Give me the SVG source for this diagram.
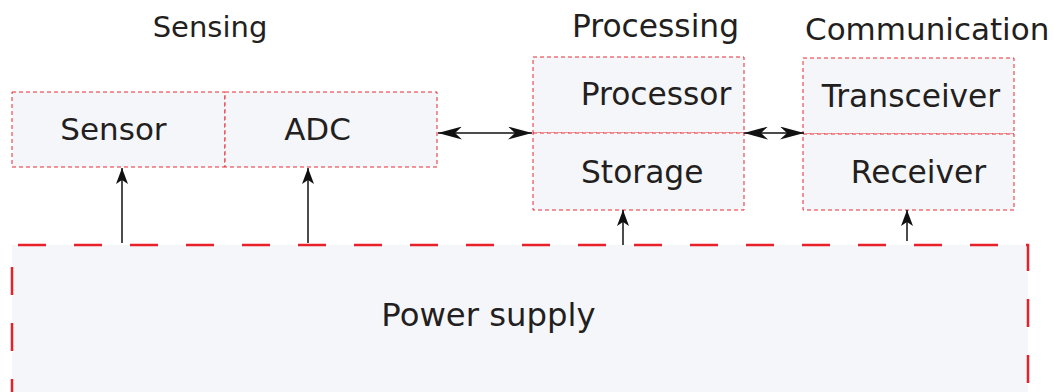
<svg xmlns="http://www.w3.org/2000/svg" width="1053" height="392" viewBox="0 0 1053 392">
<style>
text{font-family:"DejaVu Sans","Liberation Sans",sans-serif;fill:#231f20}
.node{fill:#f5f6fa;stroke:#e8202a;stroke-width:1;stroke-dasharray:4 3;stroke-opacity:0.95}
.lbl{font-size:31px}
.hdr{font-size:29px}
.wire{stroke:#111;stroke-width:1.5;fill:none}
</style>
<defs>
<marker id="ah" viewBox="0 0 16 12" refX="16" refY="6" markerWidth="16" markerHeight="12" markerUnits="userSpaceOnUse" orient="auto-start-reverse">
<path d="M0,0 L16,6 L0,12 L4,6 z" fill="#111"/>
</marker>
<marker id="ah2" viewBox="0 0 24 13" refX="24" refY="6.5" markerWidth="24" markerHeight="13" markerUnits="userSpaceOnUse" orient="auto-start-reverse">
<path d="M0,0 L24,6.5 L0,13 L7,6.5 z" fill="#111"/>
</marker>
</defs>
<text class="hdr" x="210" y="37" text-anchor="middle">Sensing</text>
<text class="hdr" x="655.5" y="37" text-anchor="middle" style="font-size:31.3px">Processing</text>
<text class="hdr" x="805" y="40" style="font-size:31px">Communication</text>
<g id="power">
<rect x="12" y="245" width="1016" height="160" fill="#f5f6fa" stroke="#e8202a" stroke-width="2.5" stroke-dasharray="28 28" stroke-dashoffset="-6"/>
<text x="488.5" y="326" text-anchor="middle" style="font-size:32.3px">Power supply</text>
</g>
<g id="sensor">
<rect class="node" x="12" y="92" width="213" height="75"/>
<text class="lbl" x="113.5" y="140" text-anchor="middle">Sensor</text>
</g>
<g id="adc">
<rect class="node" x="225" y="92" width="212" height="75"/>
<text class="lbl" x="317.5" y="140" text-anchor="middle">ADC</text>
</g>
<g id="processor">
<rect class="node" x="533" y="57" width="211" height="76"/>
<text class="lbl" x="656" y="105" text-anchor="middle" style="font-size:31.3px">Processor</text>
</g>
<g id="storage">
<rect class="node" x="533" y="133" width="211" height="77"/>
<text class="lbl" x="581" y="183" style="font-size:31.3px">Storage</text>
</g>
<g id="transceiver">
<rect class="node" x="803" y="58" width="211" height="76"/>
<text class="lbl" x="911" y="107" text-anchor="middle" style="font-size:31.3px">Transceiver</text>
</g>
<g id="receiver">
<rect class="node" x="803" y="134" width="211" height="76"/>
<text class="lbl" x="918.5" y="183" text-anchor="middle" style="font-size:31.3px">Receiver</text>
</g>
<g id="connectors">
<line class="wire" x1="122" y1="243" x2="122" y2="168" marker-end="url(#ah)"/>
<line class="wire" x1="308" y1="243" x2="308" y2="168" marker-end="url(#ah)"/>
<line class="wire" x1="623" y1="245" x2="623" y2="210" marker-end="url(#ah)"/>
<line class="wire" x1="907" y1="241" x2="907" y2="210" marker-end="url(#ah)"/>
<line class="wire" x1="438" y1="133" x2="532" y2="133" marker-start="url(#ah2)" marker-end="url(#ah2)"/>
<line class="wire" x1="744" y1="133" x2="804" y2="133" marker-start="url(#ah2)" marker-end="url(#ah2)"/>
</g>
</svg>
